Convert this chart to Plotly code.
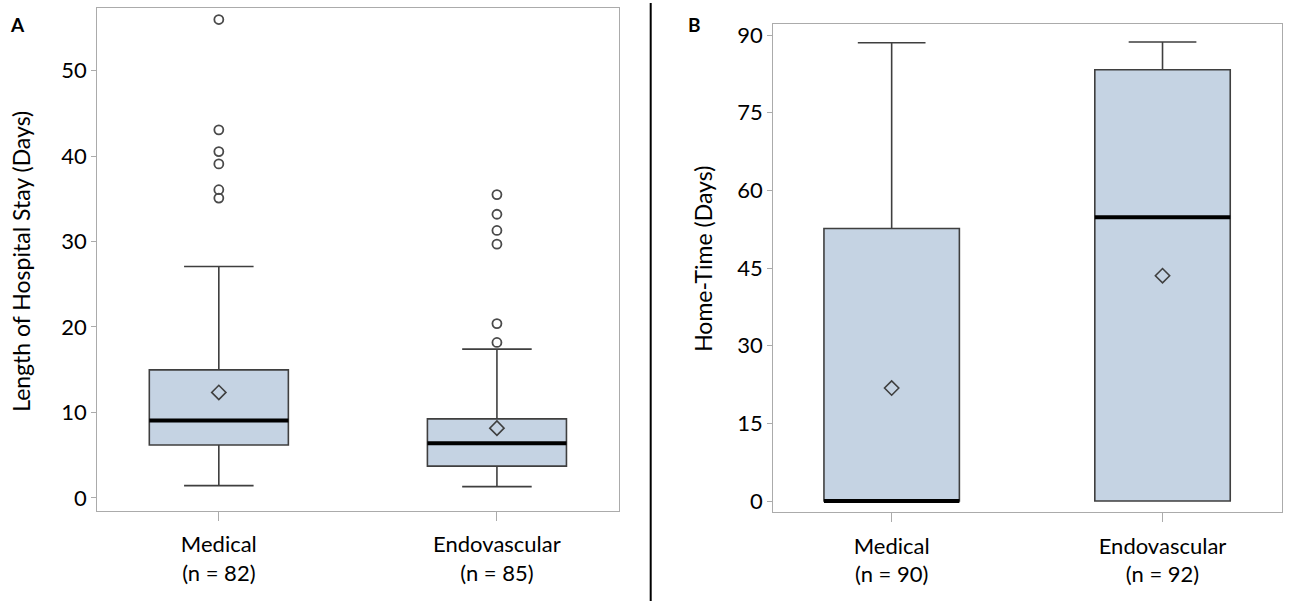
import plotly.graph_objects as go

# ---------------- data ----------------
categories_a = ["Medical", "Endovascular"]
n_a = [82, 85]
q1_a = [6.19, 3.71]
median_a = [9.05, 6.38]
q3_a = [14.98, 9.25]
lower_a = [1.43, 1.31]
upper_a = [27.08, 17.41]
mean_a = [12.34, 8.16]
outliers_medical_a = [55.99, 43.08, 40.53, 39.09, 36.07, 35.09]
outliers_endo_a = [35.5, 33.2, 31.3, 29.7, 20.4, 18.19]

categories_b = ["Medical", "Endovascular"]
n_b = [90, 92]
q1_b = [0.0, 0.0]
median_b = [0.0, 54.82]
q3_b = [52.65, 83.3]
lower_b = [0.0, 0.0]
upper_b = [88.53, 88.66]
mean_b = [21.82, 43.52]

yticks_a = [0, 10, 20, 30, 40, 50]
yticks_b = [0, 15, 30, 45, 60, 75, 90]

# ---------------- style ----------------
FILL = "#c5d3e3"
EDGE = "#3f3f3f"
FRAME = "#ababab"
FONT = "Lato"
BOX_W = 0.5
W, H = 1290, 603


def px(x):
    return x / W


def py(y):
    return 1 - y / H


fig = go.Figure()


def add_panel(xa, ya, cats, q1, med, q3, lo, hi, mean, outliers):
    pos = list(range(len(cats)))
    for i in pos:
        fig.add_trace(go.Box(
            x=[pos[i]], q1=[q1[i]], median=[med[i]], q3=[q3[i]],
            lowerfence=[lo[i]], upperfence=[hi[i]],
            width=BOX_W, whiskerwidth=0.5,
            fillcolor=FILL, line=dict(color=EDGE, width=1.6),
            boxpoints=False, xaxis=xa, yaxis=ya, showlegend=False,
            hoverinfo="skip"))
        # thick median line
        fig.add_trace(go.Scatter(
            x=[pos[i] - BOX_W / 2, pos[i] + BOX_W / 2], y=[med[i], med[i]],
            mode="lines", line=dict(color="black", width=4),
            xaxis=xa, yaxis=ya, showlegend=False, hoverinfo="skip"))
        # outliers
        if outliers[i]:
            fig.add_trace(go.Scatter(
                x=[pos[i]] * len(outliers[i]), y=outliers[i], mode="markers",
                marker=dict(symbol="circle-open", size=9,
                            line=dict(color="#4a4a4a", width=1.8), color="#4a4a4a"),
                xaxis=xa, yaxis=ya, showlegend=False, hoverinfo="skip"))
    # means
    fig.add_trace(go.Scatter(
        x=pos, y=mean, mode="markers",
        marker=dict(symbol="diamond-open", size=11,
                    line=dict(color=EDGE, width=1.6), color=EDGE),
        xaxis=xa, yaxis=ya, showlegend=False, hoverinfo="skip"))


add_panel("x", "y", categories_a, q1_a, median_a, q3_a, lower_a, upper_a,
          mean_a, [outliers_medical_a, outliers_endo_a])
add_panel("x2", "y2", categories_b, q1_b, median_b, q3_b, lower_b, upper_b,
          mean_b, [[], []])

axis_common = dict(showline=True, mirror=True, linecolor=FRAME, linewidth=1.2,
                   showgrid=False, zeroline=False, ticks="outside",
                   tickcolor=FRAME, tickfont=dict(family=FONT, size=22, color="black"))

ticktext_a = [f"{c}<br>(n = {n})" for c, n in zip(categories_a, n_a)]
ticktext_b = [f"{c}<br>(n = {n})" for c, n in zip(categories_b, n_b)]

fig.update_layout(
    width=W, height=H, margin=dict(l=0, r=0, t=0, b=0),
    paper_bgcolor="white", plot_bgcolor="white",
    font=dict(family=FONT, color="black"),
    xaxis=dict(domain=[px(97.3), px(619.3)], range=[-0.437, 1.44],
               tickvals=[0, 1], ticktext=ticktext_a, ticklen=9, anchor="y",
               ticklabelstandoff=5, **axis_common),
    yaxis=dict(domain=[py(512), py(5.3)], range=[-1.51, 57.31],
               tickvals=yticks_a, ticklen=5, anchor="x", ticklabelstandoff=0,
               **axis_common),
    xaxis2=dict(domain=[px(773.3), px(1281.7)], range=[-0.437, 1.44],
                tickvals=[0, 1], ticktext=ticktext_b, ticklen=9, anchor="y2",
                ticklabelstandoff=5, **axis_common),
    yaxis2=dict(domain=[py(513.3), py(21)], range=[-2.13, 92.17],
                tickvals=yticks_b, ticklen=5, anchor="x2", ticklabelstandoff=0,
                **axis_common),
)

# divider
fig.add_shape(type="line", xref="paper", yref="paper",
              x0=px(650.7), x1=px(650.7), y0=0, y1=1,
              line=dict(color="black", width=2))

# panel labels and axis titles
fig.add_annotation(text="<b>A</b>", x=px(17), y=py(22), xref="paper", yref="paper",
                   xanchor="center", yanchor="middle",
                   showarrow=False, font=dict(family=FONT, size=19, color="black"))
fig.add_annotation(text="<b>B</b>", x=px(694), y=py(22), xref="paper", yref="paper",
                   xanchor="center", yanchor="middle",
                   showarrow=False, font=dict(family=FONT, size=19, color="black"))
fig.add_annotation(text="Length of Hospital Stay (Days)", textangle=-90,
                   x=px(21), y=py(261), xref="paper", yref="paper",
                   xanchor="center", yanchor="middle",
                   showarrow=False, font=dict(family=FONT, size=23, color="black"))
fig.add_annotation(text="Home-Time (Days)", textangle=-90,
                   x=px(703), y=py(258), xref="paper", yref="paper",
                   xanchor="center", yanchor="middle",
                   showarrow=False, font=dict(family=FONT, size=23, color="black"))

fig.write_html("out.html", config={"displayModeBar": False},
               post_script="document.body.style.margin='0';document.body.style.overflow='hidden';")
